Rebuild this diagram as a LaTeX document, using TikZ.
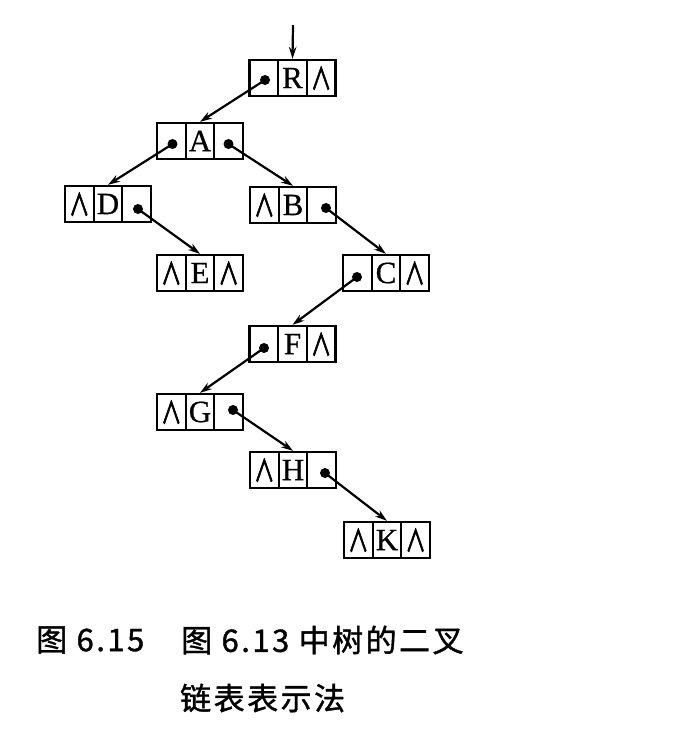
\documentclass[tikz,border=0pt]{standalone}
\usepackage{fontspec}
\setmainfont{Liberation Serif}[FakeBold=0.6]
\newfontfamily\cjk[LetterSpace=8,FakeBold=1.2]{Noto Sans CJK SC}
\newfontfamily\symf[FakeBold=3]{Noto Sans CJK SC}
\newcommand{\nilmark}{\scalebox{0.68}[1]{∧}}
\usetikzlibrary{arrows.meta,calc}
\tikzset{
  lnode/.style={draw, line width=2.3pt, minimum width=86pt, minimum height=36pt, inner sep=0pt,
    font=\fontsize{31}{31}\selectfont,
    path picture={\draw[line width=2.3pt]
      ([xshift=-14.33pt]path picture bounding box.north) -- ([xshift=-14.33pt]path picture bounding box.south)
      ([xshift=14.33pt]path picture bounding box.north) -- ([xshift=14.33pt]path picture bounding box.south);}},
  nilsym/.style={inner sep=0pt, font=\symf\fontsize{30}{30}\selectfont},
  ptr/.style={circle, fill, inner sep=0pt, minimum size=10pt},
  link/.style={line width=2.2pt, -{Stealth[length=12pt,width=7.5pt]}},
  capt/.style={anchor=west, inner sep=0pt, font=\cjk\fontsize{31}{31}\selectfont},
}
\begin{document}
\begin{tikzpicture}[x=1pt,y=-1pt]
\fill[white] (0,0) rectangle (684,732);
\useasboundingbox (0,0) rectangle (684,732);
% list nodes
\node[lnode] (R) at (292.5,78) {R};
\node[lnode] (A) at (200,141) {A};
\node[lnode] (D) at (108,204) {D};
\node[lnode] (E) at (200,273) {E};
\node[lnode] (B) at (293,205) {B};
\node[lnode] (C) at (386,273) {C};
\node[lnode] (F) at (292.5,344) {F};
\node[lnode] (G) at (200,412) {G};
\node[lnode] (H) at (293,470) {H};
\node[lnode] (K) at (387,540) {K};
% nil pointers
\node[nilsym] (Rr) at ($(R)+(28.67,0)$) {\nilmark};
\node[nilsym] (Dl) at ($(D)+(-28.67,0)$) {\nilmark};
\node[nilsym] (El) at ($(E)+(-28.67,0)$) {\nilmark};
\node[nilsym] (Er) at ($(E)+(28.67,0)$) {\nilmark};
\node[nilsym] (Bl) at ($(B)+(-28.67,0)$) {\nilmark};
\node[nilsym] (Cr) at ($(C)+(28.67,0)$) {\nilmark};
\node[nilsym] (Fr) at ($(F)+(28.67,0)$) {\nilmark};
\node[nilsym] (Gl) at ($(G)+(-28.67,0)$) {\nilmark};
\node[nilsym] (Hl) at ($(H)+(-28.67,0)$) {\nilmark};
\node[nilsym] (Kl) at ($(K)+(-28.67,0)$) {\nilmark};
\node[nilsym] (Kr) at ($(K)+(28.67,0)$) {\nilmark};
% pointer dots
\node[ptr] (Rl) at ($(R)+(-27.5,2)$) {};
\node[ptr] (Al) at ($(A)+(-27.5,3)$) {};
\node[ptr] (Ar) at ($(A)+(28.5,3)$) {};
\node[ptr] (Dr) at ($(D)+(30,5)$) {};
\node[ptr] (Br) at ($(B)+(33,3)$) {};
\node[ptr] (Cl) at ($(C)+(-29,4)$) {};
\node[ptr] (Fl) at ($(F)+(-28.5,4)$) {};
\node[ptr] (Gr) at ($(G)+(33,-2)$) {};
\node[ptr] (Hr) at ($(H)+(32,3)$) {};
% entry
\coordinate (in) at (293,25);
\draw[link] (in) -- (R.north);
% links
\draw[link] (Rl.center) -- (A.north);
\draw[link] (Al.center) -- (D.north);
\draw[link] (Ar.center) -- (B.north);
\draw[link] (Dr.center) -- (E.north);
\draw[link] (Br.center) -- (C.north);
\draw[link] (Cl.center) -- (F.north);
\draw[link] (Fl.center) -- (G.north);
\draw[link] (Gr.center) -- (H.north);
\draw[link] (Hr.center) -- (K.north);
% caption
\node[capt] (cap1) at (36,640) {图 6.15};
\node[capt] (cap2) at (181,640) {图 6.13 中树的二叉};
\node[capt] (cap3) at (180,698) {链表表示法};
\end{tikzpicture}
\end{document}
